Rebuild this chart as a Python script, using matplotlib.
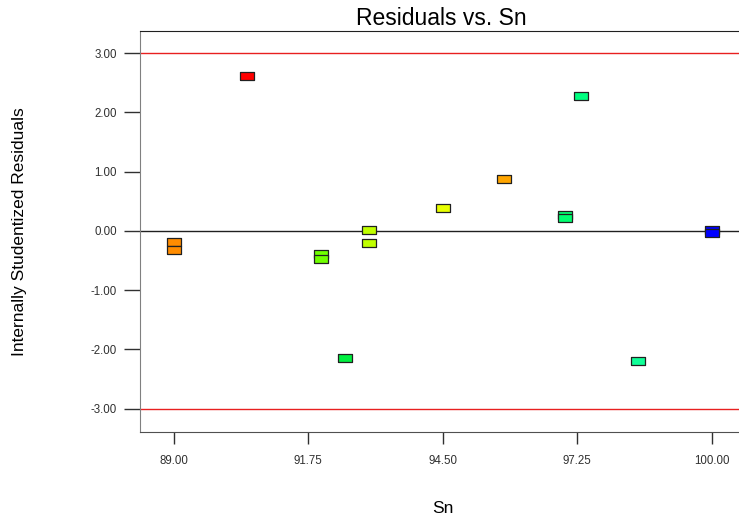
import matplotlib

matplotlib.use("Agg")
import matplotlib.pyplot as plt

plt.rcParams["font.family"] = ["Liberation Sans", "DejaVu Sans"]

# Sn level, internally studentized residual, point colour
sn = [89.0, 89.0, 90.5, 92.0, 92.0, 92.5, 93.0, 93.0, 94.5, 95.75,
      97.0, 97.0, 97.33, 98.5, 100.0, 100.0]
residuals = [-0.19, -0.33, 2.62, -0.39, -0.47, -2.14, 0.01, -0.21, 0.38, 0.88,
             0.26, 0.22, 2.27, -2.19, 0.01, -0.04]
colors = ["#ff8c00", "#ff8c00", "#ff0000", "#70ff00", "#70ff00", "#00f040",
          "#c0ff00", "#c0ff00", "#e8ff00", "#ffa500", "#00ff70", "#00ff70",
          "#00ff80", "#10ff98", "#0000ff", "#0000ff"]

x_ticks = [89.00, 91.75, 94.50, 97.25, 100.00]
y_ticks = [-3.0, -2.0, -1.0, 0.0, 1.0, 2.0, 3.0]
limit = 3.0

fig = plt.figure(figsize=(7.39, 5.17), dpi=100)
ax = fig.add_axes([0.189, 0.164, 0.815, 0.777])

rect = [(-1, -0.62), (1, -0.62), (1, 0.62), (-1, 0.62), (-1, -0.62)]
ax.axhline(0.0, color="#202020", linewidth=1.0, zorder=1)
ax.axhline(limit, color="#e82020", linewidth=1.0, zorder=1)
ax.axhline(-limit, color="#e82020", linewidth=1.0, zorder=1)
for x, y, c in zip(sn, residuals, colors):
    ax.plot(x, y, linestyle="none", marker=rect, markersize=9.4,
            markerfacecolor=c, markeredgecolor="#202020",
            markeredgewidth=0.9, zorder=3)

ax.set_xlim(88.30, 100.62)
ax.set_ylim(-3.40, 3.38)
ax.set_xticks(x_ticks, [f"{v:.2f}" for v in x_ticks])
ax.set_yticks(y_ticks, [f"{v:.2f}" for v in y_ticks])
ax.tick_params(axis="both", direction="out", labelsize=8.3,
               colors="#303030", width=1.0)
ax.tick_params(axis="y", length=11.5, pad=5)
ax.tick_params(axis="x", length=8.5, pad=8)
ax.spines["right"].set_visible(False)
ax.spines["top"].set_color("#202020")
ax.spines["left"].set_color("#808080")
ax.spines["bottom"].set_color("#505050")

ax.set_title("Residuals vs. Sn", fontsize=16.5, pad=4)
ax.set_xlabel("Sn", fontsize=12.5)
ax.set_ylabel("Internally Studentized Residuals", fontsize=12.5)
ax.xaxis.set_label_coords(0.504, -0.17)
ax.yaxis.set_label_coords(-0.187, 0.5)

fig.savefig("out.png", dpi=100)
